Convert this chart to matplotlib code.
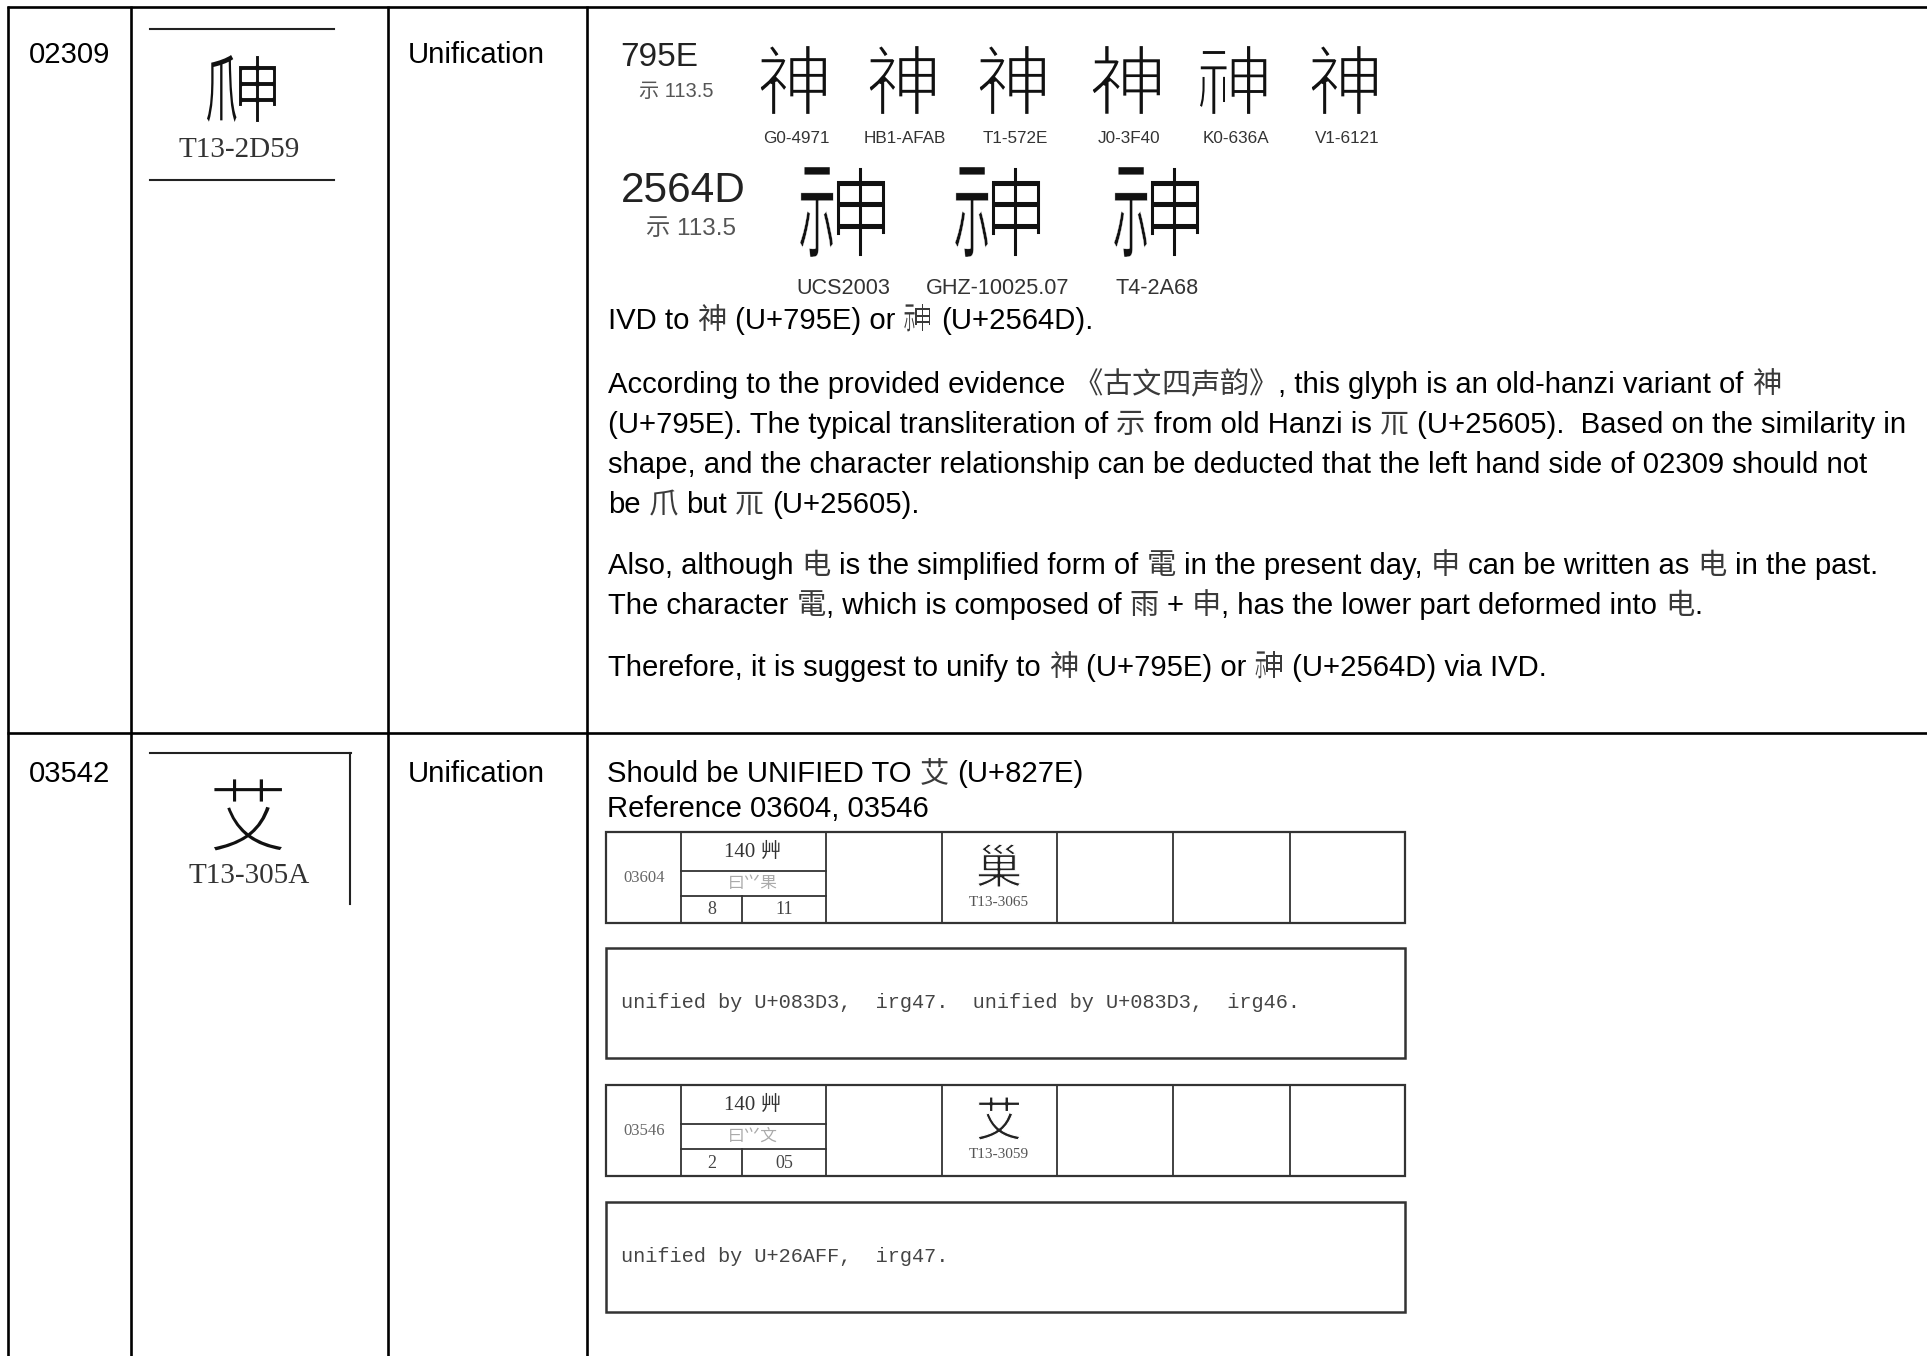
import matplotlib
matplotlib.use('Agg')
import matplotlib.pyplot as plt
from matplotlib import font_manager as fm
from matplotlib.font_manager import FontProperties
from matplotlib.ft2font import FT2Font
from matplotlib.textpath import TextPath
from matplotlib.patches import PathPatch
from matplotlib.transforms import Affine2D

# ---------------- data ----------------
row_ids = ['02309', '03542']
row_types = ['Unification', 'Unification']
row_glyph_labels = ['T13-2D59', 'T13-305A']

cp_main = '795E'
cp_main_radical = '示 113.5'
main_sources = ['G0-4971', 'HB1-AFAB', 'T1-572E', 'J0-3F40', 'K0-636A', 'V1-6121']
main_fonts = ['Noto Sans CJK SC', 'Noto Sans CJK TC', 'Noto Sans CJK TC',
              'Noto Sans CJK JP', 'Noto Sans CJK KR', 'Noto Sans CJK SC']
cp_alt = '2564D'
cp_alt_radical = '示 113.5'
alt_sources = ['UCS2003', 'GHZ-10025.07', 'T4-2A68']

row1_paragraphs = [
    ["IVD to 神 (U+795E) or 𥙍 (U+2564D)."],
    ["According to the provided evidence 《古文四声韵》, this glyph is an old-hanzi variant of 神",
     "(U+795E). The typical transliteration of 示 from old Hanzi is 𥘅 (U+25605).  Based on the similarity in",
     "shape, and the character relationship can be deducted that the left hand side of 02309 should not",
     "be 爪 but 𥘅 (U+25605)."],
    ["Also, although 电 is the simplified form of 電 in the present day, 申 can be written as 电 in the past.",
     "The character 電, which is composed of 雨 + 申, has the lower part deformed into 电."],
    ["Therefore, it is suggest to unify to 神 (U+795E) or 𥙍 (U+2564D) via IVD."],
]
row2_lines = ["Should be UNIFIED TO 艾 (U+827E)", "Reference 03604, 03546"]

ref_ids = ['03604', '03546']
ref_radicals = ['140 艸', '140 艸']
ref_ids_desc = ['曰⺍果', '曰⺍文']
ref_strokes = [('8', '11'), ('2', '05')]
ref_glyphs = ['巢', '艾']
ref_glyph_labels = ['T13-3065', 'T13-3059']
ref_notes = ['unified by U+083D3,  irg47.  unified by U+083D3,  irg46.',
             'unified by U+26AFF,  irg47.']

# ---------------- setup ----------------
W, H, DPI = 1927, 1356, 100
fig = plt.figure(figsize=(W / DPI, H / DPI), dpi=DPI)
ax = fig.add_axes([0, 0, 1, 1])
ax.set_xlim(0, W)
ax.set_ylim(H, 0)
ax.axis('off')
R = fig.canvas.get_renderer()

CJK = 'Noto Sans CJK SC'
SANS = ['Liberation Sans', CJK, 'DejaVu Sans']
SERIF = ['Liberation Serif', CJK, 'DejaVu Serif']
MONO = ['Liberation Mono', 'DejaVu Sans Mono']
names = {f.name for f in fm.fontManager.ttflist}
HAS_NARROW = 'Liberation Sans Narrow' in names
NARROW = ['Liberation Sans Narrow'] if HAS_NARROW else ['Liberation Sans']
# condensed label font: same width with a narrow face needs a bigger size
NARROW_SIZE = 1.0 / 0.82 if HAS_NARROW else 1.0


def has_glyph(family, ch):
    try:
        path = fm.findfont(FontProperties(family=family), fallback_to_default=False)
        return FT2Font(path).get_char_index(ord(ch)) != 0
    except Exception:
        return False


# substitutes (drawn as composed glyph paths) for characters missing from the fonts
SUBST = {'𥙍': [('示', 0.40, 0.0), ('申', 0.60, 0.0)], '𥘅': [('兀', 1.0, 0.0)]}


def text_w(s, **kw):
    if not s:
        return 0.0
    t1 = ax.text(0, 0, 'x' + s + 'x', **kw)
    t2 = ax.text(0, 0, 'xx', **kw)
    w = t1.get_window_extent(R).width - t2.get_window_extent(R).width
    t1.remove(); t2.remove()
    return w


def add_glyph_patch(path, color, thin):
    # a thin white outline erodes the sans strokes toward the light Ming look of the scans
    ax.add_patch(PathPatch(path, fc=color, ec='white' if thin > 0 else 'none', lw=thin))


def glyph_parts(parts, x0, x1, top, bot, color='k', fam=CJK, gap=0.0):
    """parts: (char, width fraction, stroke thinning) — side-by-side composed glyph."""
    fp = FontProperties(family=fam)
    total = (x1 - x0) - gap * (len(parts) - 1)
    cx = x0
    for ch, frac, thin in parts:
        p = TextPath((0, 0), ch, size=100, prop=fp)
        e = p.get_extents()
        w = total * frac
        tr = Affine2D().translate(-e.x0, -e.y1).scale(w / e.width, -(bot - top) / e.height).translate(cx, top)
        add_glyph_patch(tr.transform_path(p), color, thin)
        cx += w + gap


def glyph_fit(ch, cx, top, bot, color='k', fam=CJK, thin=0.0):
    fp = FontProperties(family=fam)
    p = TextPath((0, 0), ch, size=100, prop=fp)
    e = p.get_extents()
    s = (bot - top) / e.height
    tr = Affine2D().translate(-(e.x0 + e.x1) / 2, -e.y1).scale(s, -s).translate(cx, top)
    add_glyph_patch(tr.transform_path(p), color, thin)


def is_cjk(c):
    return ord(c) > 0x2E7F


def put_line(x, y, s, size, color='k', cjk_color='#3a3a3a'):
    """Mixed Latin/CJK line drawn as consecutive runs; missing CJK glyphs composed."""
    base = ''.join('\u3000' if is_cjk(c) else c for c in s)
    em = size * DPI / 72.0
    ref = TextPath((0, 0), '神', size=em, prop=FontProperties(family=CJK)).get_extents()
    runs, i = [], 0
    while i < len(s):
        if is_cjk(s[i]):
            runs.append((i, i + 1, True)); i += 1
        else:
            j = i
            while j < len(s) and not is_cjk(s[j]):
                j += 1
            runs.append((i, j, False)); i = j
    for i, j, cj in runs:
        seg = s[i:j]
        lead = len(seg) - len(seg.lstrip(' '))
        seg = seg.strip(' ')
        if not seg:
            continue
        px = x + text_w(base[:i + lead], fontsize=size, family=SANS)
        if not cj:
            ax.text(px, y, seg, fontsize=size, family=SANS, color=color, va='baseline', ha='left')
        elif has_glyph(CJK, seg) or seg not in SUBST:
            ax.text(px, y, seg, fontsize=size, family=[CJK], color=cjk_color, va='baseline', ha='left')
        else:
            glyph_parts(SUBST[seg], px + ref.x0, px + ref.x1, y - ref.y1, y - ref.y0,
                        color=cjk_color, gap=0.02 * em)


# ---------------- table grid ----------------
LW = 1.9
col_x = [8, 131, 388, 587]
row_y = [7, 733]
for x in col_x:
    ax.plot([x, x], [row_y[0] - 1, H], color='k', lw=LW, solid_capstyle='butt')
for y in row_y:
    ax.plot([col_x[0] - 1, W], [y, y], color='k', lw=LW, solid_capstyle='butt')

BODY = 21.1
row_base = [63, 782]
for i in range(2):
    ax.text(29, row_base[i], row_ids[i], fontsize=BODY, family=SANS, va='baseline')
    ax.text(408, row_base[i], row_types[i], fontsize=BODY, family=SANS, va='baseline')

# ---------------- column 2 glyph images ----------------
ax.plot([150, 334], [29, 29], color='#222', lw=1.5)
ax.plot([150, 334], [180, 180], color='#222', lw=1.5)
glyph_parts([('爪', 0.44, 0.0), ('申', 0.56, 0.8)], 207, 276, 55, 122, color='#111', gap=2)
ax.text(239, 157, row_glyph_labels[0], fontsize=21, family=SERIF, color='#333',
        ha='center', va='baseline')

ax.plot([150, 351], [753, 753], color='#222', lw=1.5)
ax.plot([350, 350], [753, 904], color='#222', lw=1.5)
glyph_fit('艾', 248, 778, 852, color='#111', thin=2.0)
ax.text(249, 883, row_glyph_labels[1], fontsize=21, family=SERIF, color='#333',
        ha='center', va='baseline')

# ---------------- row 1 evidence image ----------------
ax.text(620, 66, cp_main, fontsize=24, family=SANS, color='#222', va='baseline')
ax.text(639, 97, cp_main_radical, fontsize=14.5, family=SANS, color='#555', va='baseline')
main_cx = [793, 902, 1012, 1126, 1233, 1344]
for cx, src, fam in zip(main_cx, main_sources, main_fonts):
    glyph_fit('神', cx, 45, 115, color='#111', fam=fam, thin=1.6)
    ax.text(cx + 3, 143, src, fontsize=12.3 * NARROW_SIZE, family=NARROW, color='#333',
            ha='center', va='baseline')

ax.text(621, 202, cp_alt, fontsize=30.5, family=SANS, color='#222', va='baseline')
ax.text(646, 235, cp_alt_radical, fontsize=17.5, family=SANS, color='#555', va='baseline')
alt_cx = [843, 998, 1157]
for cx, src in zip(alt_cx, alt_sources):
    glyph_parts([('示', 0.40, 0.3), ('申', 0.60, 1.4)], cx - 43, cx + 43, 167, 257, color='#111', gap=3)
    ax.text(cx, 294, src, fontsize=15.6 * NARROW_SIZE, family=NARROW, color='#333',
            ha='center', va='baseline')

# ---------------- row 1 text ----------------
para_start = [329, 393, 574, 676]
LS = 40
for p, y0 in zip(row1_paragraphs, para_start):
    for k, line in enumerate(p):
        put_line(608, y0 + k * LS, line, BODY)

# ---------------- row 2 text ----------------
put_line(607, 782, row2_lines[0], BODY)
put_line(607, 817, row2_lines[1], BODY)

# ---------------- reference boxes ----------------
BX0, BX1 = 606, 1405
box_cols = [681, 826, 942, 1057, 1173, 1290]
BC = '#333'
tables_top = [832, 1085]
notes_top = [948, 1202]
TH, NH = 91, 110
for j in range(2):
    t0 = tables_top[j]
    ax.add_patch(plt.Rectangle((BX0, t0), BX1 - BX0, TH, fill=False, ec=BC, lw=1.6))
    for x in box_cols:
        ax.plot([x, x], [t0, t0 + TH], color=BC, lw=1.3)
    ax.plot([681, 826], [t0 + 39, t0 + 39], color=BC, lw=1.3)
    ax.plot([681, 826], [t0 + 64, t0 + 64], color=BC, lw=1.3)
    ax.plot([742, 742], [t0 + 64, t0 + TH], color=BC, lw=1.3)
    ax.text(644, t0 + 46, ref_ids[j], fontsize=12, family=SERIF, color='#666', ha='center', va='center')
    ax.text(753, t0 + 20, ref_radicals[j], fontsize=15, family=SERIF, color='#333', ha='center', va='center')
    ax.text(753, t0 + 52, ref_ids_desc[j], fontsize=12, family=SERIF, color='#aaa', ha='center', va='center')
    ax.text(712, t0 + 78, ref_strokes[j][0], fontsize=13, family=SERIF, color='#444', ha='center', va='center')
    ax.text(784, t0 + 78, ref_strokes[j][1], fontsize=13, family=SERIF, color='#444', ha='center', va='center')
    glyph_fit(ref_glyphs[j], 999, t0 + 12, t0 + 55, color='#222', thin=0.8)
    ax.text(999, t0 + 70, ref_glyph_labels[j], fontsize=11, family=SERIF, color='#555', ha='center', va='center')

    n0 = notes_top[j]
    ax.add_patch(plt.Rectangle((BX0, n0), BX1 - BX0, NH, fill=False, ec=BC, lw=1.8))
    ax.text(621, n0 + 55, ref_notes[j], fontsize=14.6, family=MONO, color='#444', ha='left', va='center')

fig.savefig('out.png', dpi=DPI, facecolor='white')
